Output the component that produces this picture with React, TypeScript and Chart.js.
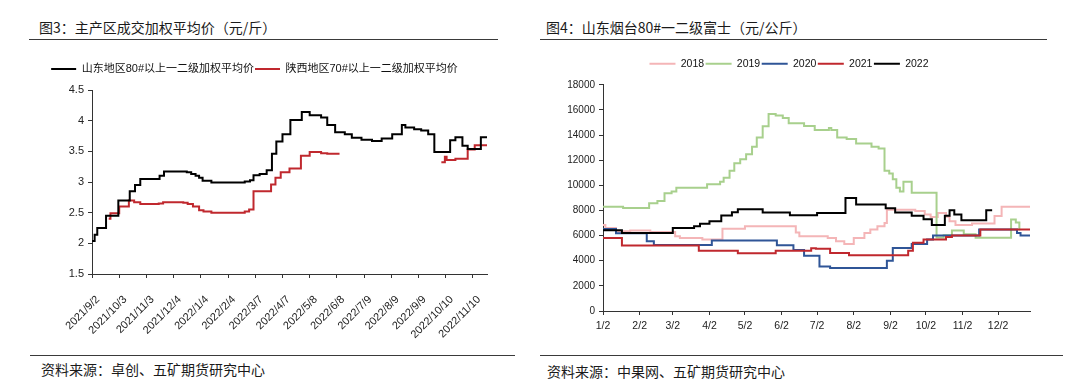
import React, { useEffect, useRef } from 'react';
import { Chart, registerables } from 'chart.js';

Chart.register(...registerables);

const FONT = "'Liberation Sans', 'Noto Sans CJK SC', sans-serif";
const CJK = "'Noto Sans CJK SC', 'Liberation Sans', sans-serif";

// ---------- Figure 3 (left) ----------
const leftTitle = '图3：主产区成交加权平均价（元/斤）';
const leftSource = '资料来源：卓创、五矿期货研究中心';
const leftSeriesNames = ['山东地区80#以上一二级加权平均价', '陕西地区70#以上一二级加权平均价'];
// x = days since 2021/9/2
const leftTickDays = [0, 31, 62, 93, 124, 155, 186, 217, 248, 279, 310, 341, 372, 403, 434];
const leftTickLabels = ['2021/9/2', '2021/10/3', '2021/11/3', '2021/12/4', '2022/1/4', '2022/2/4', '2022/3/7', '2022/4/7', '2022/5/8', '2022/6/8', '2022/7/9', '2022/8/9', '2022/9/9', '2022/10/10', '2022/11/10'];
const leftXMax = 450;
const leftYMin = 1.5;
const leftYMax = 4.5;
const leftYStep = 0.5;

const sdDays = [0, 3, 6, 16, 30, 43, 49, 55, 77, 82, 108, 113, 118, 122, 126, 136, 174, 180, 184, 191, 199, 205, 210, 217, 226, 239, 248, 261, 268, 277, 288, 296, 307, 319, 330, 342, 353, 357, 367, 375, 383, 390, 408, 414, 422, 428, 443, 450];
const sdVals = [2.04, 2.14, 2.25, 2.45, 2.70, 2.85, 2.95, 3.05, 3.10, 3.17, 3.16, 3.13, 3.10, 3.07, 3.02, 2.99, 3.01, 3.03, 3.11, 3.13, 3.19, 3.46, 3.66, 3.78, 4.01, 4.14, 4.09, 4.05, 3.93, 3.81, 3.78, 3.72, 3.69, 3.67, 3.71, 3.78, 3.93, 3.89, 3.86, 3.84, 3.78, 3.49, 3.68, 3.73, 3.59, 3.54, 3.73, 3.73];

const sxDays = [19, 21, 31, 42, 48, 55, 76, 81, 104, 109, 115, 122, 127, 136, 174, 179, 184, 204, 209, 215, 225, 238, 248, 261, 268, 282, 283, 398, 402, 404, 414, 428, 436, 450];
const sxVals = [2.40, 2.49, 2.60, 2.70, 2.67, 2.64, 2.65, 2.67, 2.66, 2.64, 2.60, 2.54, 2.52, 2.50, 2.52, 2.55, 2.85, 2.96, 3.07, 3.16, 3.22, 3.43, 3.49, 3.47, 3.46, 3.46, null, 3.32, 3.41, 3.36, 3.38, 3.53, 3.60, 3.60];

// ---------- Figure 4 (right) ----------
const rightTitle = '图4：山东烟台80#一二级富士（元/公斤）';
const rightSource = '资料来源：中果网、五矿期货研究中心';
const rightSeriesNames = ['2018', '2019', '2020', '2021', '2022'];
// x = days since 1/2
const rightTickDays = [0, 31, 59, 90, 120, 151, 181, 212, 243, 273, 304, 334];
const rightTickLabels = ['1/2', '2/2', '3/2', '4/2', '5/2', '6/2', '7/2', '8/2', '9/2', '10/2', '11/2', '12/2'];
const rightXMax = 361;
const rightYMin = 0;
const rightYMax = 18000;
const rightYStep = 2000;

const y2018Days = [0, 2, 11, 23, 40, 61, 65, 84, 101, 120, 163, 166, 190, 197, 204, 212, 221, 226, 232, 238, 240, 264, 272, 277, 283, 290, 293, 298, 312, 331, 337, 362];
const y2018Vals = [6850, 6600, 6350, 6400, 6290, 5950, 5810, 5680, 6550, 6740, 6250, 5950, 5810, 5550, 5330, 5810, 6210, 6480, 6750, 7010, 8050, 7950, 7680, 7480, 7800, 7500, 7150, 6850, 6960, 7550, 8300, 8300];

const y2019Days = [0, 17, 39, 46, 52, 58, 62, 88, 99, 102, 107, 111, 116, 121, 126, 130, 135, 140, 146, 152, 157, 170, 179, 191, 193, 198, 206, 214, 227, 233, 238, 242, 245, 248, 251, 254, 261, 282, 288, 295, 305, 315, 345, 349, 352];
const y2019Vals = [8290, 8200, 8580, 8750, 9360, 9500, 9810, 10080, 10290, 10610, 11150, 11760, 12080, 12480, 13070, 13810, 14700, 15680, 15550, 15360, 14930, 14720, 14400, 14560, 14400, 13810, 13680, 13330, 13070, 12930, 11150, 10930, 10480, 9810, 9500, 10290, 9410, 5850, 6030, 6400, 6100, 5820, 7280, 7050, 6400];

const y2020Days = [0, 11, 37, 43, 92, 147, 161, 170, 183, 192, 240, 245, 261, 274, 279, 318, 350, 353, 362];
const y2020Vals = [6530, 6180, 5550, 5250, 5600, 5230, 4850, 4400, 3550, 3420, 4000, 5010, 5330, 5680, 6000, 6480, 6200, 6000, 6000];

const y2021Days = [0, 16, 81, 114, 146, 176, 180, 192, 208, 258, 262, 271, 290, 295, 319, 362];
const y2021Vals = [5800, 5220, 4800, 4600, 4800, 5000, 4950, 4620, 4430, 4800, 5420, 5690, 5880, 6000, 6480, 6480];

const y2022Days = [0, 16, 59, 77, 82, 90, 100, 109, 114, 135, 158, 181, 205, 214, 239, 247, 261, 271, 278, 289, 293, 297, 303, 324, 329];
const y2022Vals = [6420, 6210, 6610, 6750, 6950, 7150, 7600, 7850, 8100, 7830, 7620, 7800, 8990, 8480, 8180, 7830, 7580, 7300, 6850, 7570, 8020, 7680, 7220, 8020, 8020];

const rightColors = ['#F4B5B7', '#A8D08D', '#2F5597', '#C0282E', '#000000'];

const pts = (days: number[], vals: (number | null)[]) => days.map((d, i) => ({ x: d, y: vals[i] }));

const axisColor = '#333333';
const tickColor = '#222222';

function makeXAxis(tickDays: number[], tickLabels: string[], max: number, height: number, rotate: boolean, fontSize: number, padding: number, labelOffset: number) {
  return {
    type: 'linear',
    position: 'bottom',
    min: 0,
    max,
    afterBuildTicks: (s: any) => { s.ticks = tickDays.map((v) => ({ value: v })); },
    afterFit: (s: any) => { s.height = height; s.paddingLeft = 0; s.paddingRight = 0; },
    grid: { display: true, drawOnChartArea: false, drawTicks: true, tickLength: 4, color: axisColor },
    border: { display: true, color: axisColor, width: 1 },
    ticks: {
      autoSkip: false,
      maxRotation: rotate ? 45 : 0,
      minRotation: rotate ? 45 : 0,
      padding,
      labelOffset,
      color: tickColor,
      font: { family: FONT, size: fontSize },
      callback: (_v: any, i: number) => tickLabels[i],
    },
  };
}

function makeYAxis(min: number, max: number, step: number, width: number, fontSize: number) {
  return {
    type: 'linear',
    position: 'left',
    min,
    max,
    afterFit: (s: any) => { s.width = width; },
    grid: { display: true, drawOnChartArea: false, drawTicks: true, tickLength: 4, color: axisColor },
    border: { display: true, color: axisColor, width: 1 },
    ticks: {
      stepSize: step,
      padding: 4,
      color: tickColor,
      font: { family: FONT, size: fontSize },
      callback: (v: any) => String(Math.round(Number(v) * 100) / 100),
    },
  };
}

function spacer(h: number) {
  return {
    type: 'linear',
    position: 'top',
    display: true,
    grid: { display: false },
    border: { display: false },
    ticks: { display: false },
    afterFit: (s: any) => { s.height = h; },
  };
}

function legendOpts(fontSize: number, boxW: number, pad: number) {
  return {
    display: true,
    position: 'top',
    labels: {
      usePointStyle: true,
      pointStyle: 'line',
      pointStyleWidth: boxW,
      padding: pad,
      color: '#111111',
      font: { family: FONT, size: fontSize },
      sort: (a: any, b: any) => a.datasetIndex - b.datasetIndex,
    },
  };
}

function LeftChart() {
  const ref = useRef<HTMLCanvasElement>(null);
  useEffect(() => {
    const chart = new Chart(ref.current as HTMLCanvasElement, {
      type: 'line',
      data: {
        datasets: [
          { label: leftSeriesNames[0], data: pts(sdDays, sdVals), borderColor: '#000000', backgroundColor: '#000000', borderWidth: 2, pointRadius: 0, stepped: true, xAxisID: 'x', yAxisID: 'y' },
          { label: leftSeriesNames[1], data: pts(sxDays, sxVals), borderColor: '#C0282E', backgroundColor: '#C0282E', borderWidth: 2, pointRadius: 0, stepped: true, spanGaps: false, xAxisID: 'x', yAxisID: 'y' },
        ],
      },
      options: {
        responsive: false,
        animation: false,
        devicePixelRatio: 1,
        layout: { padding: { top: 14.5, right: 3, left: 0, bottom: 0 } },
        plugins: { legend: legendOpts(11, 25, 1) as any, tooltip: { enabled: false } },
        scales: {
          x: makeXAxis(leftTickDays, leftTickLabels, leftXMax, 66, true, 11, 15, 6) as any,
          y: makeYAxis(leftYMin, leftYMax, leftYStep, 70, 11) as any,
          pad: spacer(5.5) as any,
        },
      },
    });
    return () => chart.destroy();
  }, []);
  return <canvas ref={ref} width={468} height={292} style={{ position: 'absolute', left: 22, top: 48, width: 468, height: 292 }} />;
}

function RightChart() {
  const ref = useRef<HTMLCanvasElement>(null);
  useEffect(() => {
    const all = [
      [y2018Days, y2018Vals],
      [y2019Days, y2019Vals],
      [y2020Days, y2020Vals],
      [y2021Days, y2021Vals],
      [y2022Days, y2022Vals],
    ] as [number[], number[]][];
    const chart = new Chart(ref.current as HTMLCanvasElement, {
      type: 'line',
      data: {
        datasets: all.map(([d, v], i) => ({
          label: rightSeriesNames[i],
          data: pts(d, v),
          borderColor: rightColors[i],
          backgroundColor: rightColors[i],
          borderWidth: 2,
          pointRadius: 0,
          stepped: true,
          order: 5 - i,
          xAxisID: 'x',
          yAxisID: 'y',
        })),
      },
      options: {
        responsive: false,
        animation: false,
        devicePixelRatio: 1,
        layout: { padding: { top: 9, right: 6, left: 0, bottom: 0 } },
        plugins: { legend: legendOpts(10.5, 26, 1.5) as any, tooltip: { enabled: false } },
        scales: {
          x: makeXAxis(rightTickDays, rightTickLabels, rightXMax, 29, false, 10.5, 5, 0) as any,
          y: makeYAxis(rightYMin, rightYMax, rightYStep, 55, 10) as any,
          pad: spacer(5.75) as any,
        },
      },
    });
    return () => chart.destroy();
  }, []);
  return <canvas ref={ref} width={488} height={292} style={{ position: 'absolute', left: 548, top: 48, width: 488, height: 292 }} />;
}

const textStyle = (left: number, top: number): React.CSSProperties => ({
  position: 'absolute', left, top, fontFamily: CJK, fontSize: 14, lineHeight: '20px', color: '#1a1a1a', whiteSpace: 'nowrap',
});
const rule = (left: number, top: number, width: number): React.CSSProperties => ({
  position: 'absolute', left, top, width, height: 1.3, background: '#3a3a3a',
});

export default function App() {
  return (
    <div style={{ position: 'absolute', left: 0, top: 0, width: 1080, height: 391, background: '#ffffff', overflow: 'hidden' }}>
      <div style={textStyle(39, 16.5)}>{leftTitle}</div>
      <div style={rule(29, 38.7, 469)} />
      <div style={textStyle(546, 16.5)}>{rightTitle}</div>
      <div style={rule(540, 38.7, 507)} />
      <LeftChart />
      <RightChart />
      <div style={rule(30, 355, 485)} />
      <div style={textStyle(41, 359)}>{leftSource}</div>
      <div style={rule(540, 355, 523)} />
      <div style={textStyle(547, 360.5)}>{rightSource}</div>
    </div>
  );
}
